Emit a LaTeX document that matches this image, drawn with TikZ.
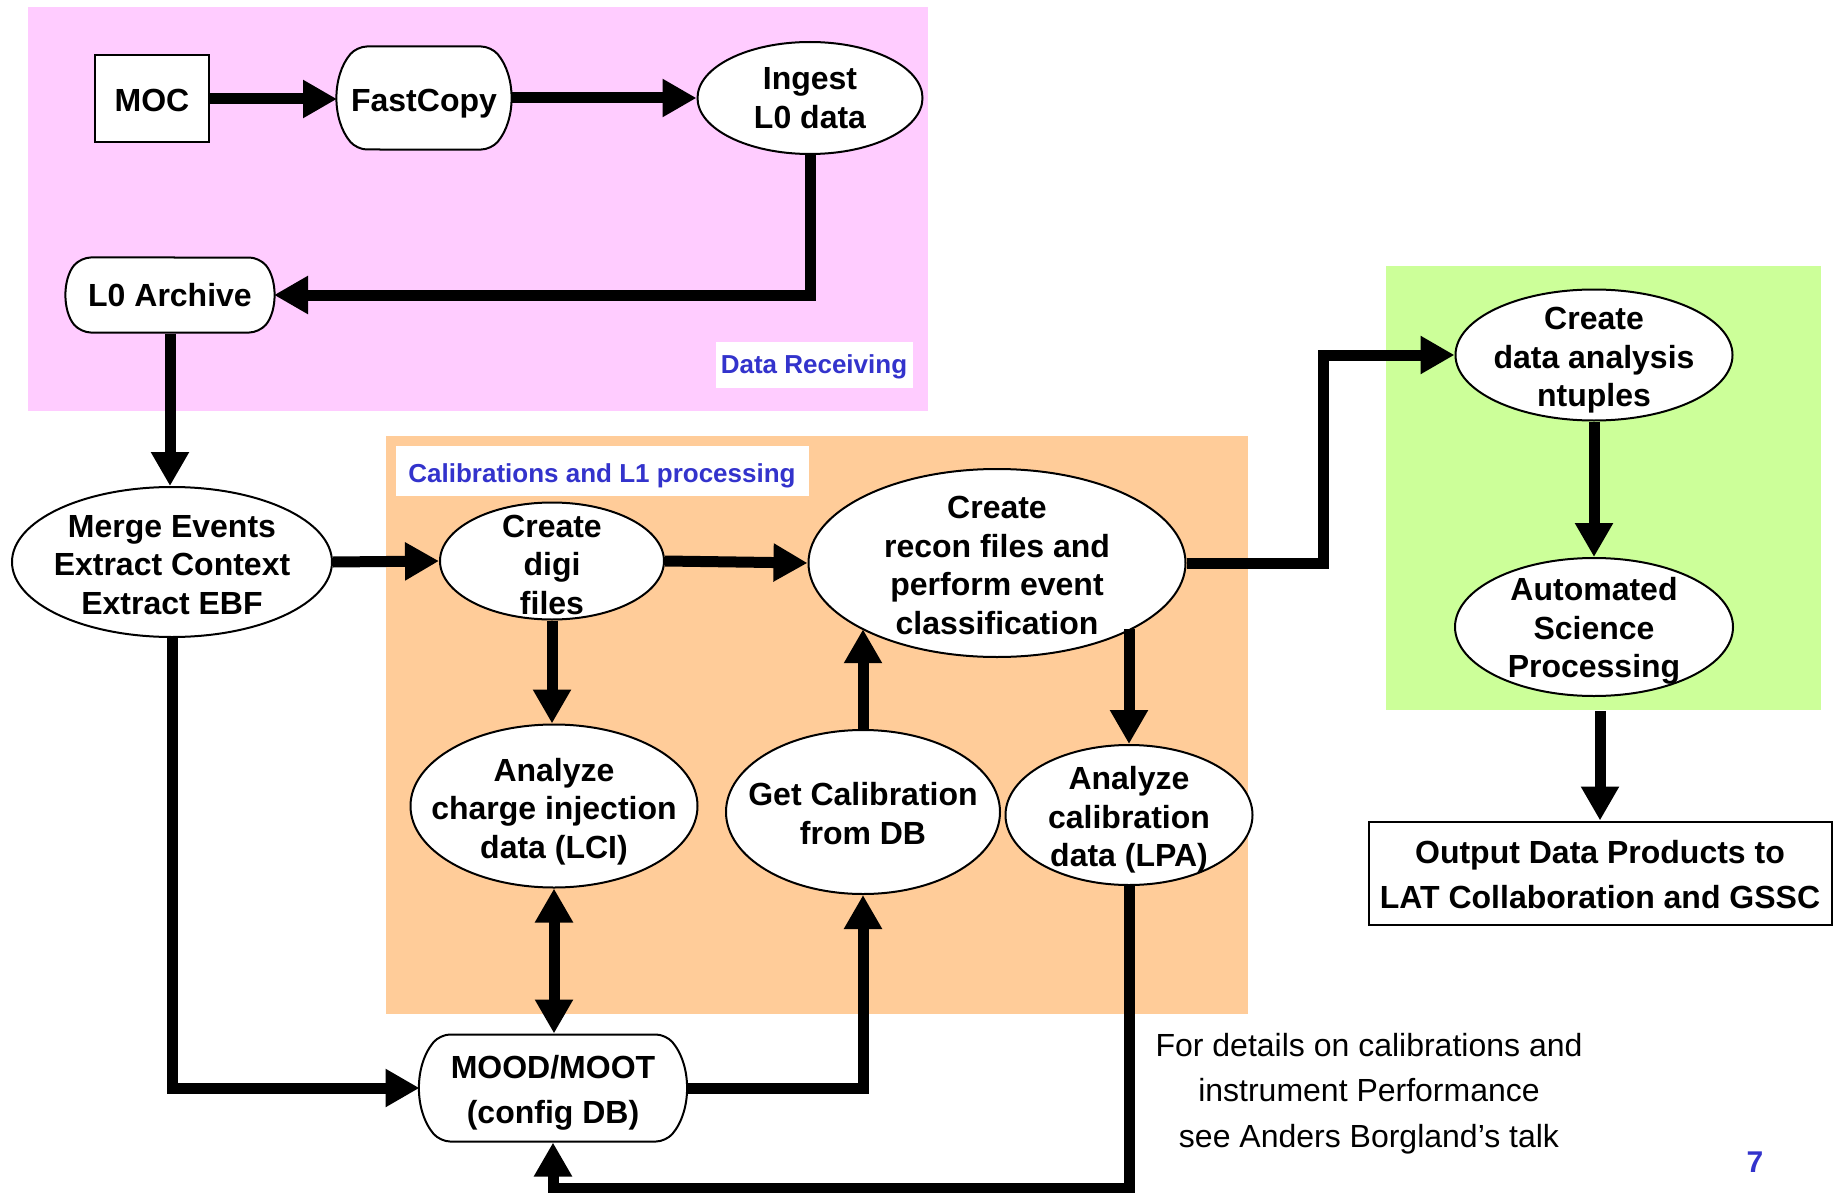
\documentclass[tikz,border=0pt]{standalone}
\usepackage{fontspec}
\setmainfont{Liberation Sans}
\usetikzlibrary{shapes.geometric,shapes.misc,arrows.meta}
\definecolor{recvpink}{RGB}{255,204,255}
\definecolor{calorange}{RGB}{255,204,153}
\definecolor{sciencegreen}{RGB}{204,255,153}
\definecolor{labelblue}{RGB}{51,51,204}
% invisible strut on the first line, pushes the text down a bit
\newcommand{\tdrop}[1]{\rule{0pt}{#1}}

\begin{document}
\begin{tikzpicture}[x=1pt, y=-1pt,
    proc/.style={ellipse, draw, fill=white, line width=2pt, inner sep=-80pt, align=center,
        font=\fontsize{32}{38.5}\selectfont\bfseries},
    store/.style={rounded rectangle, rounded rectangle arc length=80, rounded corners=10pt,
        draw, fill=white, line width=2pt, inner xsep=2pt, align=center,
        font=\fontsize{32}{38.5}\selectfont\bfseries},
    plainbox/.style={rectangle, draw, fill=white, line width=2pt, inner sep=0pt, align=center,
        font=\fontsize{32}{38.5}\selectfont\bfseries},
    tag/.style={fill=white, text=labelblue, inner sep=0pt, font=\fontsize{26}{30}\selectfont\bfseries},
    flow/.style={line width=11pt, -{Triangle[length=34pt,width=36pt]}},
    flowboth/.style={line width=11pt, {Triangle[length=34pt,width=36pt]}-{Triangle[length=34pt,width=36pt]}}
]
\fill[white] (0,0) rectangle (1834,1193);
\useasboundingbox (0,0) rectangle (1834,1193);

% Areas
\fill[recvpink] (28,7) rectangle (928,411);
\fill[calorange] (386,436) rectangle (1248,1014);
\fill[sciencegreen] (1386,266) rectangle (1821,710);
\node[tag, minimum width=197pt, minimum height=46pt] (recvlbl) at (814,365) {\tdrop{23pt}Data Receiving};
\node[tag, minimum width=413pt, minimum height=50pt] (callbl) at (602,471) {\tdrop{28pt}Calibrations and L1 processing};

% Steps
\node[plainbox, minimum width=114pt, minimum height=87pt] (moc) at (152,99) {\tdrop{26pt}MOC};
\node[store, minimum width=176pt, minimum height=103pt] (fcp) at (424,98) {\tdrop{33pt}FastCopy};
\node[proc, minimum width=225pt, minimum height=112pt] (ing) at (810,98) {Ingest\\L0 data};
\node[store, minimum width=210pt, minimum height=75pt] (arc) at (170,295) {L0 Archive};
\node[proc, minimum width=320pt, minimum height=150pt] (mrg) at (172,562) {\tdrop{28pt}Merge Events\\Extract Context\\Extract EBF};
\node[proc, minimum width=224pt, minimum height=117pt] (dig) at (552,561) {\tdrop{30pt}Create\\digi\\files};
\node[proc, minimum width=377pt, minimum height=188pt] (rec) at (997,563) {\tdrop{27pt}Create\\recon files and\\perform event\\classification};
\node[proc, minimum width=287pt, minimum height=163pt] (lci) at (554,806) {\tdrop{34pt}Analyze\\charge injection\\data (LCI)};
\node[proc, minimum width=274pt, minimum height=164pt] (gcal) at (863,812) {\tdrop{26pt}Get Calibration\\from DB};
\node[proc, minimum width=247pt, minimum height=140pt] (lpa) at (1129,815) {\tdrop{33pt}Analyze\\calibration\\data (LPA)};
\node[store, minimum width=269pt, minimum height=107pt, font=\fontsize{32}{45.6}\selectfont\bfseries] (mood) at (553,1088) {\tdrop{33pt}MOOD/MOOT\\(config DB)};
\node[proc, minimum width=277pt, minimum height=131pt] (ntp) at (1594,355) {\tdrop{33pt}Create\\data analysis\\ntuples};
\node[proc, minimum width=278pt, minimum height=138pt] (asp) at (1594,627) {\tdrop{31pt}Automated\\Science\\Processing};
\node[plainbox, minimum width=463pt, minimum height=103pt, font=\fontsize{32}{45.6}\selectfont\bfseries] (out) at (1600,873) {\tdrop{26pt}Output Data Products to\\LAT Collaboration and GSSC};

% Notes
\node[align=center, font=\fontsize{32}{45.6}\selectfont] (note) at (1369,1090) {\tdrop{30pt}For details on calibrations and\\instrument Performance\\see Anders Borgland’s talk};
\node[text=labelblue, font=\fontsize{30}{36}\selectfont\bfseries] (pgno) at (1755,1162) {7};

% Arrows
\draw[flow] (moc.east) -- (moc.east -| fcp.west);
\draw[flow] (fcp.east) -- (fcp.east -| ing.west);
\draw[flow] (ing.south) |- (arc.east);
\draw[flow] (arc.south) -- (arc.south |- mrg.north);
\draw[flow] (mrg.east) -- (dig.west);
\draw[flow] (dig.east) -- (rec.west);
\draw[flow] (rec.east) -- ++(137,0) |- (ntp.west);
\draw[flow] (ntp.south) -- (asp.north);
\draw[flow, shorten <=14pt] (out.north |- asp.south) -- (out.north);
\draw[flow] (dig.south) -- (dig.south |- lci.north);
\draw[flowboth] (lci.south) -- (lci.south |- mood.north);
\draw[flow] (mood.east) -| (gcal.south);
\draw[flow] (gcal.north) -- (gcal.north |- rec.206);
\draw[flow] (lpa.north |- rec.334) -- (lpa.north);
\draw[flow] (lpa.south) -- ++(0,302) -| (mood.south);
\draw[flow] (mrg.south) |- (mood.west);
\end{tikzpicture}
\end{document}
